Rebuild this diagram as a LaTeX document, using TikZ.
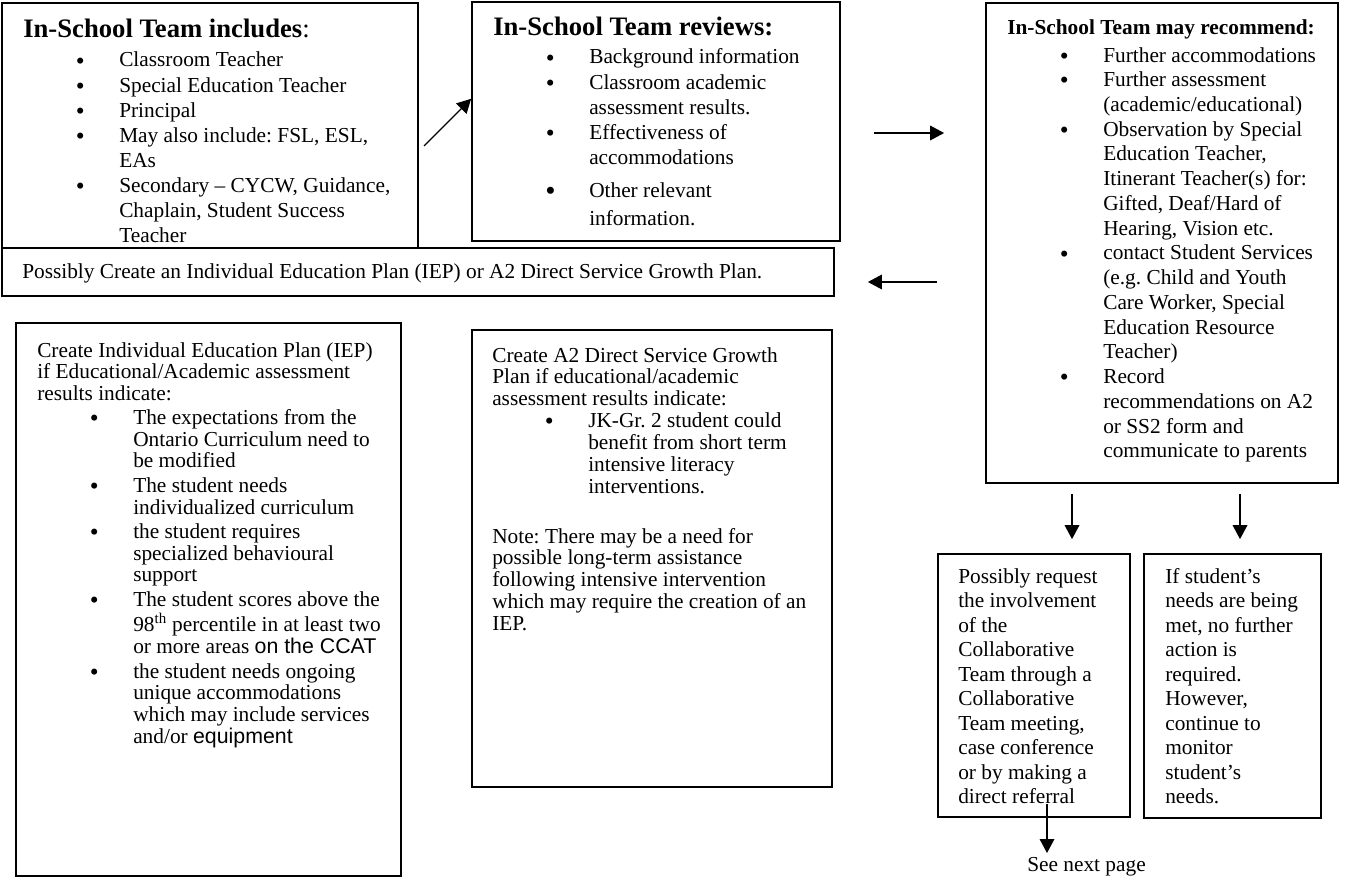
\documentclass[tikz,border=0pt]{standalone}
\usepackage{fontspec}
\setmainfont{Liberation Serif}
\newfontfamily\arialfont{Liberation Sans}
\usepackage{tikz}
\usetikzlibrary{arrows.meta,fit,calc,positioning}
\frenchspacing

\newcommand{\bul}{\hspace*{39.5pt}\makebox[32.5pt][l]{\raisebox{-1.6pt}{\fontsize{19}{16}\selectfont\textbullet}}}
\newcommand{\bigbul}{\hspace*{39pt}\makebox[33pt][l]{\raisebox{-2pt}{\fontsize{22}{16}\selectfont\textbullet}}}
\newcommand{\ind}{\hspace*{72pt}}
\newcommand{\boxlines}[1]{\begin{tabular}[t]{@{}l@{}}#1\end{tabular}}

\begin{document}
\begin{tikzpicture}[x=0.75pt,y=-0.75pt,
                    box/.style={draw,line width=1.3pt,inner sep=0pt},
                    txt/.style={anchor=base west,inner sep=0pt},
                    arr/.style={-{Triangle[length=10.5pt,width=11pt]},line width=0.9pt}]
  \useasboundingbox (0,0) rectangle (1345,877);

  \node[box,fit={(2,3) (418,248)}] (inc) {};
  \node[box,fit={(472,2) (840,241)}] (rev) {};
  \node[box,fit={(986,3) (1338,483)}] (rec) {};
  \node[box,fit={(2,248) (834,296)}] (plan) {};
  \node[box,fit={(16,323) (401,876)}] (iep) {};
  \node[box,fit={(472,330) (832,787)}] (dsg) {};
  \node[box,fit={(938,554) (1130,817)}] (req) {};
  \node[box,fit={(1144,554) (1321,818)}] (met) {};

  \node[txt,font=\fontsize{16}{18.8}\selectfont] (inctext) at (23,38) {\boxlines{%
    {\fontsize{20}{18.8}\selectfont\bfseries In-School Team includes}{\fontsize{20}{18.8}\selectfont :}\\[2.95pt]
    \bul Classroom Teacher\\
    \bul Special Education Teacher\\
    \bul Principal\\
    \bul May also include: FSL, ESL,\\
    \ind EAs\\
    \bul Secondary – CYCW, Guidance,\\
    \ind Chaplain, Student Success\\
    \ind Teacher}};

  \node[txt,font=\fontsize{16}{18.9}\selectfont] (revtext) at (493,36) {\boxlines{%
    {\fontsize{20}{18.9}\selectfont\bfseries In-School Team reviews:}\\[2.1pt]
    \bul Background information\\
    \bul Classroom academic\\
    \ind assessment results.\\
    \bul Effectiveness of\\
    \ind accommodations\\[5.85pt]
    \bigbul Other relevant\\[2.1pt]
    \ind information.}};

  \node[txt,font=\fontsize{16}{18.56}\selectfont] (rectext) at (1007,35) {\boxlines{%
    {\bfseries In-School Team may recommend:}\\[1.7pt]
    \bul Further accommodations\\
    \bul Further assessment\\
    \ind (academic/educational)\\
    \bul Observation by Special\\
    \ind Education Teacher,\\
    \ind Itinerant Teacher(s) for:\\
    \ind Gifted, Deaf/Hard of\\
    \ind Hearing, Vision etc.\\
    \bul contact Student Services\\
    \ind (e.g. Child and Youth\\
    \ind Care Worker, Special\\
    \ind Education Resource\\
    \ind Teacher)\\
    \bul Record\\
    \ind recommendations on A2\\
    \ind or SS2 form and\\
    \ind communicate to parents}};

  \node[txt,font=\fontsize{16}{18.8}\selectfont] (plantext) at (22,278)
    {Possibly Create an Individual Education Plan (IEP) or A2 Direct Service Growth Plan.};

  \node[txt,font=\fontsize{16}{16.2}\selectfont] (ieptext) at (37,357) {\boxlines{%
    Create Individual Education Plan (IEP)\\
    if Educational/Academic assessment\\
    results indicate:\\[2.2pt]
    \bul The expectations from the\\
    \ind Ontario Curriculum need to\\
    \ind be modified\\[2.2pt]
    \bul The student needs\\
    \ind individualized curriculum\\[2.2pt]
    \bul the student requires\\
    \ind specialized behavioural\\
    \ind support\\[2.2pt]
    \bul The student scores above the\\
    \ind 98\textsuperscript{th} percentile in at least two\\
    \ind or more areas {\arialfont on the CCAT}\\[2.2pt]
    \bul the student needs ongoing\\
    \ind unique accommodations\\
    \ind which may include services\\
    \ind and/or {\arialfont equipment}}};

  \node[txt,font=\fontsize{16}{16.4}\selectfont] (dsgtext) at (492,362) {\boxlines{%
    Create A2 Direct Service Growth\\
    Plan if educational/academic\\
    assessment results indicate:\\
    \bul JK-Gr. 2 student could\\
    \ind benefit from short term\\
    \ind intensive literacy\\
    \ind interventions.\\[21pt]
    Note: There may be a need for\\
    possible long-term assistance\\
    following intensive intervention\\
    which may require the creation of an\\
    IEP.}};

  \node[txt,font=\fontsize{16}{18.4}\selectfont] (reqtext) at (958,583) {\boxlines{%
    Possibly request\\
    the involvement\\
    of the\\
    Collaborative\\
    Team through a\\
    Collaborative\\
    Team meeting,\\
    case conference\\
    or by making a\\
    direct referral}};

  \node[txt,font=\fontsize{16}{18.4}\selectfont] (mettext) at (1165,583) {\boxlines{%
    If student's\\
    needs are being\\
    met, no further\\
    action is\\
    required.\\
    However,\\
    continue to\\
    monitor\\
    student's\\
    needs.}};

  \node[txt,font=\fontsize{16}{18.4}\selectfont] (nxt) at (1027,871) {See next page};

  \coordinate (t1) at (424,146);
  \draw[arr] (t1) -- (rev.173);
  \draw[arr,shorten <=24.75pt,shorten >=30.75pt] (rev.east |- 0,133) -- (rec.west |- 0,133);
  \draw[arr,shorten <=36pt,shorten >=24.75pt] (rec.west |- 0,282) -- (plan.east |- 0,282);
  \draw[arr,shorten <=7.5pt,shorten >=10.5pt] (rec.south -| 1072,0) -- (req.north -| 1072,0);
  \draw[arr,shorten <=7.5pt,shorten >=10.5pt] (rec.south -| 1240,0) -- (met.north -| 1240,0);
  \draw[arr,shorten <=-10.5pt,shorten >=2.7pt] (req.south -| 1047,0) -- (nxt.north -| 1047,0);
\end{tikzpicture}
\end{document}
